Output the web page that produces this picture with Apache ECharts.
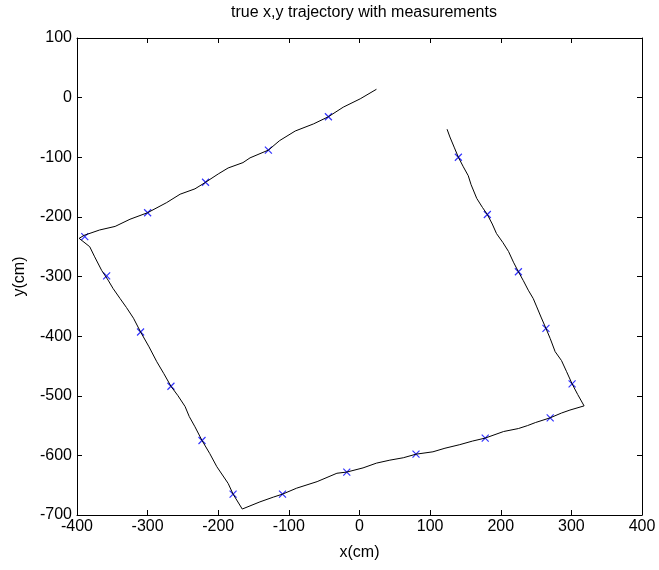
<!DOCTYPE html>
<html><head><meta charset="utf-8">
<script src="https://cdn.jsdelivr.net/npm/echarts@6/dist/echarts.min.js"></script>
<style>html,body{margin:0;padding:0;background:#fff}#c{width:659px;height:570px}</style>
</head><body><div id="c"></div>
<script>
var titleText = "true x,y trajectory with measurements";
var xName = "x(cm)";
var yName = "y(cm)";
var trajX = [124,128,134,140,147,154,158,166,174,181,188,194,203,211,218,225,232,239,246,251,257,264,270,277,286,293,301,309,318,
 298,286,270,249,238,225,204,178,160,142,121,104,80,62,43,24,5,-18,-32,-60,-89,-109,-122,-141,-166,
 -179,-186,-202,-212,-223,-233,-241,-247,-257,-267,-277,-287,-298,-310,-320,-330,-339,-349,-356,-365,-375,-382,-397,
 -390,-368,-346,-325,-300,-273,-254,-233,-218,-200,-186,-165,-155,-129,-113,-91,-65,-44,-23,1,24];
var trajY = [-53,-66,-83,-100,-116,-131,-146,-169,-184,-196,-212,-228,-243,-258,-276,-292,-307,-323,-337,-351,-368,-387,-404,-426,-441,-459,-480,-498,-517,
 -524,-529,-537,-545,-550,-555,-560,-571,-576,-582,-588,-594,-598,-604,-608,-613,-621,-628,-630,-644,-655,-665,-670,-678,-690,
 -665,-647,-619,-597,-575,-552,-535,-518,-500,-484,-463,-443,-418,-393,-370,-352,-337,-320,-306,-290,-267,-250,-236,
 -231,-222,-216,-204,-193,-176,-162,-153,-142,-128,-118,-109,-101,-88,-72,-56,-44,-32,-16,-2,14];
var measX = [140,181,225,264,301,270,178,80,-18,-109,-179,-223,-267,-310,-358,-389,-300,-218,-129,-44];
var measY = [-100,-196,-292,-387,-480,-537,-571,-598,-628,-665,-665,-575,-484,-393,-299,-233,-193,-142,-88,-32];
var xTicks = {min:-400,max:400,interval:100};
var yTicks = {min:-700,max:100,interval:100};

var traj = trajX.map(function(x,i){return [x,trajY[i]];});
var meas = measX.map(function(x,i){return [x,measY[i]];});
var font = "'Liberation Sans', Arial, sans-serif";
var fs = 16;
var axisCommon = {
  axisLine:{show:true,onZero:false,lineStyle:{color:'#000',width:1}},
  axisTick:{show:true,inside:true,length:5,lineStyle:{color:'#000'}},
  splitLine:{show:false}
};
function ax(o){ return Object.assign({}, JSON.parse(JSON.stringify(axisCommon)), o); }
var chart = echarts.init(document.getElementById('c'), null, {renderer:'canvas'});
chart.setOption({
  animation:false,
  backgroundColor:'#fff',
  title:{text:titleText,left:359,top:0,textAlign:'center',textStyle:{fontFamily:font,fontSize:fs,fontWeight:'normal',color:'#000'}},
  grid:{left:77,right:17,top:38,bottom:55},
  xAxis:[
    ax({type:'value',position:'bottom',min:xTicks.min,max:xTicks.max,interval:xTicks.interval,
      name:xName,nameLocation:'middle',nameGap:30,nameTextStyle:{fontFamily:font,fontSize:fs,color:'#000'},
      axisLabel:{fontFamily:font,fontSize:fs,color:'#000',margin:4}}),
    ax({type:'value',position:'top',min:xTicks.min,max:xTicks.max,interval:xTicks.interval,axisLabel:{show:false}})
  ],
  yAxis:[
    ax({type:'value',position:'left',min:yTicks.min,max:yTicks.max,interval:yTicks.interval,
      name:yName,nameLocation:'middle',nameGap:49,nameTextStyle:{fontFamily:font,fontSize:fs,color:'#000'},
      axisLabel:{fontFamily:font,fontSize:fs,color:'#000',margin:5}}),
    ax({type:'value',position:'right',min:yTicks.min,max:yTicks.max,interval:yTicks.interval,axisLabel:{show:false}})
  ],
  series:[
    {type:'line',data:traj,showSymbol:false,symbol:'none',lineStyle:{color:'#000',width:1},silent:true},
    {type:'scatter',data:meas,symbol:'path://M0,0L10,10M10,0L0,10',symbolSize:7,
      itemStyle:{color:'#0000ff',borderColor:'#0000ff',borderWidth:1.2}}
  ]
});
</script></body></html>
